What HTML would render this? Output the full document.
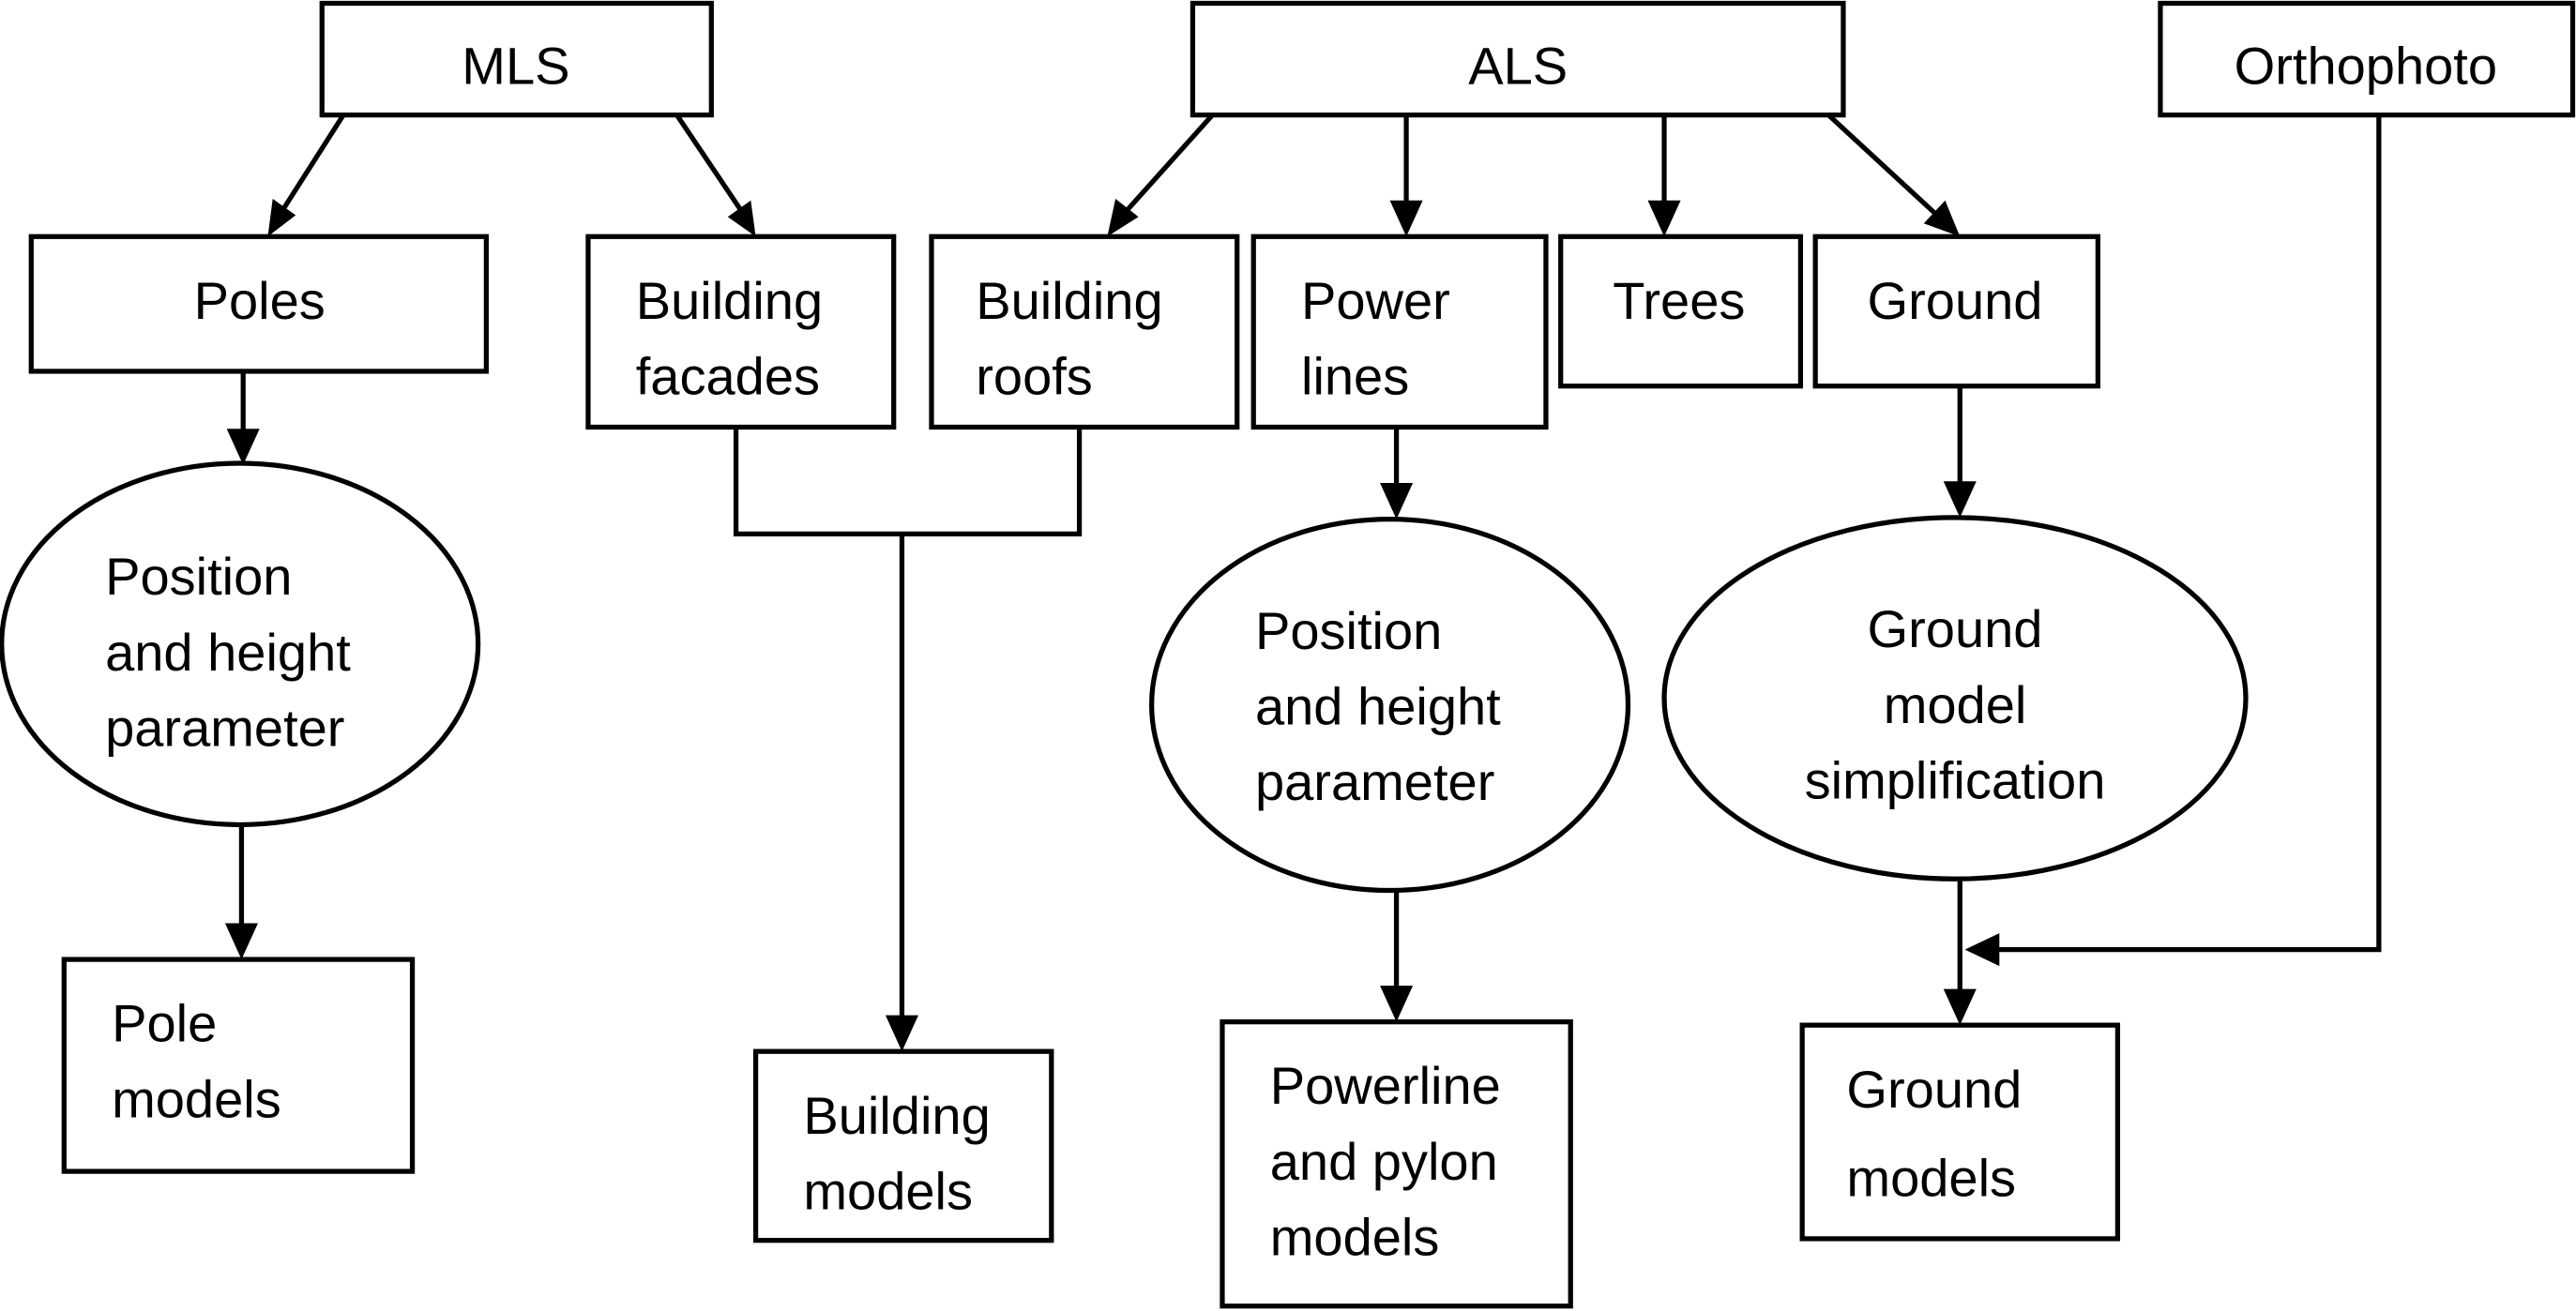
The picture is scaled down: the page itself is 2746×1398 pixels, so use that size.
<!DOCTYPE html>
<html><head><meta charset="utf-8"><style>
html,body{margin:0;padding:0;background:#fff;}
svg{display:block;}
text{font-family:"Liberation Sans",sans-serif;font-size:32px;fill:#000;}
</style></head><body>
<svg width="2746" height="1398" viewBox="0 0 1568 798" preserveAspectRatio="none" xmlns="http://www.w3.org/2000/svg">
<g fill="#fff" stroke="#000" stroke-width="3">
<rect x="196" y="2" width="237" height="68"/>
<rect x="726" y="2" width="396" height="68"/>
<rect x="1315" y="2" width="251" height="68"/>
<rect x="19" y="144" width="277" height="82"/>
<rect x="358" y="144" width="186" height="116"/>
<rect x="567" y="144" width="186" height="116"/>
<rect x="763" y="144" width="178" height="116"/>
<rect x="950" y="144" width="146" height="91"/>
<rect x="1105" y="144" width="172" height="91"/>
<ellipse cx="146" cy="392" rx="145" ry="110"/>
<ellipse cx="846" cy="429" rx="145" ry="113"/>
<ellipse cx="1190" cy="425" rx="177" ry="110"/>
<rect x="39" y="584" width="212" height="129"/>
<rect x="460" y="640" width="180" height="115"/>
<rect x="744" y="622" width="212" height="173"/>
<rect x="1097" y="624" width="192" height="130"/>
</g>
<g stroke="#000" stroke-width="3" fill="none">
<line x1="209" y1="70" x2="172" y2="128"/>
<line x1="412" y1="70" x2="451" y2="128"/>
<line x1="738" y1="70" x2="686" y2="128"/>
<line x1="856" y1="70" x2="856" y2="126"/>
<line x1="1013" y1="70" x2="1013" y2="126"/>
<line x1="1113" y1="70" x2="1178" y2="130"/>
<line x1="148" y1="226" x2="148" y2="266"/>
<line x1="147" y1="503" x2="147" y2="566"/>
<polyline points="448,260 448,325 657,325 657,260"/>
<line x1="549" y1="325" x2="549" y2="622"/>
<line x1="850" y1="260" x2="850" y2="298"/>
<line x1="850" y1="542" x2="850" y2="604"/>
<line x1="1193" y1="235" x2="1193" y2="297"/>
<line x1="1193" y1="535" x2="1193" y2="606"/>
<polyline points="1448,70 1448,578 1212,578"/>
</g>
<g fill="#000">
<polygon points="163,144 166,121 180,131"/>
<polygon points="460,144 443,132 457,122"/>
<polygon points="674,144 679,121 693,132"/>
<polygon points="856,144 846,122 866,122"/>
<polygon points="1013,144 1003,122 1023,122"/>
<polygon points="1193,144 1171,136 1184,122"/>
<polygon points="148,283 138,261 158,261"/>
<polygon points="147,584 137,562 157,562"/>
<polygon points="549,640 539,618 559,618"/>
<polygon points="850,316 840,294 860,294"/>
<polygon points="850,622 840,600 860,600"/>
<polygon points="1193,315 1183,293 1203,293"/>
<polygon points="1193,624 1183,602 1203,602"/>
<polygon points="1196,578 1217,568 1217,588"/>
</g>
<g>
<text x="314" y="51" text-anchor="middle">MLS</text>
<text x="924" y="51" text-anchor="middle">ALS</text>
<text x="1440" y="51" text-anchor="middle">Orthophoto</text>
<text x="158" y="194" text-anchor="middle">Poles</text>
<text x="387" y="194">Building</text>
<text x="387" y="240">facades</text>
<text x="594" y="194">Building</text>
<text x="594" y="240">roofs</text>
<text x="792" y="194">Power</text>
<text x="792" y="240">lines</text>
<text x="1022" y="194" text-anchor="middle">Trees</text>
<text x="1190" y="194" text-anchor="middle">Ground</text>
<text x="64" y="362">Position</text>
<text x="64" y="408">and height</text>
<text x="64" y="454">parameter</text>
<text x="764" y="395">Position</text>
<text x="764" y="441">and height</text>
<text x="764" y="487">parameter</text>
<text x="1190" y="394" text-anchor="middle">Ground</text>
<text x="1190" y="440" text-anchor="middle">model</text>
<text x="1190" y="486" text-anchor="middle">simplification</text>
<text x="68" y="634">Pole</text>
<text x="68" y="680">models</text>
<text x="489" y="690">Building</text>
<text x="489" y="736">models</text>
<text x="773" y="672">Powerline</text>
<text x="773" y="718">and pylon</text>
<text x="773" y="764">models</text>
<text x="1124" y="674">Ground</text>
<text x="1124" y="728">models</text>
</g>
</svg>
</body></html>
